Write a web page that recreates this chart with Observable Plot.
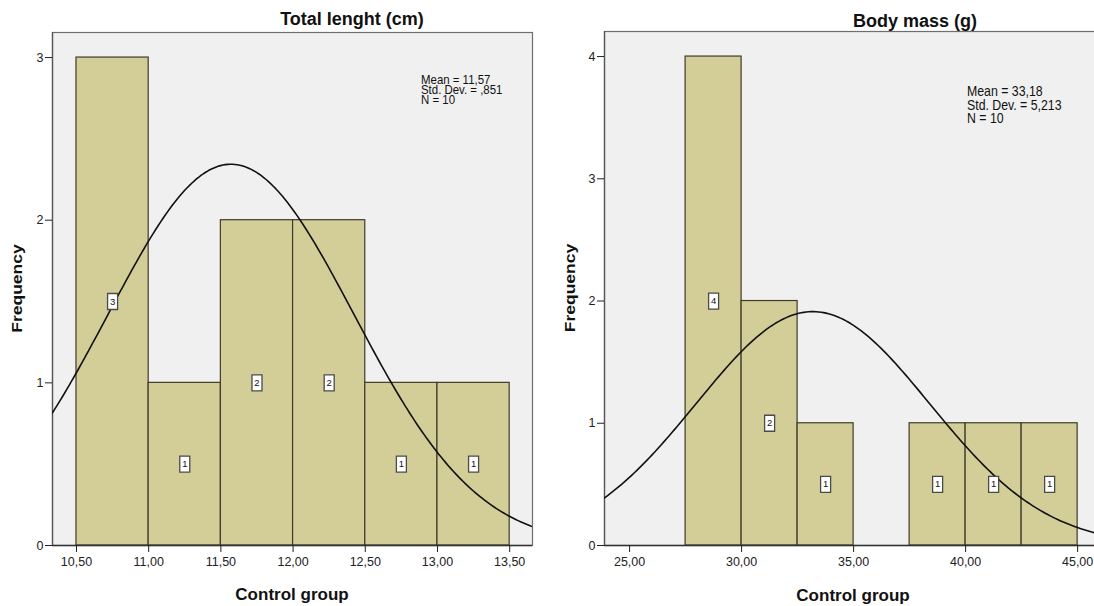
<!DOCTYPE html>
<html><head><meta charset="utf-8">
<script src="https://cdn.jsdelivr.net/npm/d3@7"></script>
<script src="https://cdn.jsdelivr.net/npm/@observablehq/plot@0.6"></script>
<style>
html,body{margin:0;padding:0;background:#fff;}
#wrap{position:relative;width:1094px;height:606px;overflow:hidden;background:#fff;}
#left{position:absolute;left:0;top:0;width:545px;height:606px;}
#right{position:absolute;left:545px;top:0;width:557px;height:606px;}
#wrap svg{max-width:none !important;display:block;}
</style></head><body><div id="wrap"><div id="left"></div><div id="right"></div></div>
<script>
// ---- Total length (cm) ----
const lenTitle = "Total lenght (cm)";
const lenEdges = [10.5, 11.0, 11.5, 12.0, 12.5, 13.0, 13.5];
const lenCounts = [3, 1, 2, 2, 1, 1];
const lenXTicks = [10.5, 11.0, 11.5, 12.0, 12.5, 13.0, 13.5];
const lenYTicks = [0, 1, 2, 3];
const lenMean = 11.57, lenSD = 0.851, lenN = 10;
const lenStatLines = ["Mean = 11,57", "Std. Dev. = ,851", "N = 10"];

// ---- Body mass (g) ----
const massTitle = "Body mass (g)";
const massEdges = [27.5, 30.0, 32.5, 35.0, 37.5, 40.0, 42.5, 45.0];
const massCounts = [4, 2, 1, 0, 1, 1, 1];
const massXTicks = [25, 30, 35, 40, 45];
const massYTicks = [0, 1, 2, 3, 4];
const massMean = 33.18, massSD = 5.213, massN = 10;
const massStatLines = ["Mean = 33,18", "Std. Dev. = 5,213", "N = 10"];

const xLabel = "Control group";
const yLabel = "Frequency";

const FONT = '"Liberation Sans", Arial, Helvetica, sans-serif';
const BAR_FILL = "#d3ce97";
const BAR_STROKE = "#3e3b2a";
const BG = "#f0f0f0";

const fmtComma = d => d.toFixed(2).replace(".", ",");

function txt(svg, s, x, y, o = {}) {
  return d3.select(svg).append("text")
    .attr("transform", `translate(${x},${y}) scale(${o.sx || 1},1) rotate(${o.rot || 0})`)
    .attr("text-anchor", o.anchor || "start")
    .attr("font-family", FONT)
    .attr("font-size", o.size || 12)
    .attr("font-weight", o.weight || "normal")
    .attr("fill", o.fill || "#111")
    .text(s);
}

function panel(cfg) {
  const bars = cfg.counts.map((c, i) => ({x1: cfg.edges[i], x2: cfg.edges[i + 1], count: c}));
  const labeled = bars.filter(b => b.count > 0).map(b => ({xm: (b.x1 + b.x2) / 2, ym: b.count / 2, count: b.count}));
  const bw = cfg.edges[1] - cfg.edges[0];
  const [x0, x1] = cfg.xDomain;
  const steps = 200;
  const curve = d3.range(steps + 1).map(i => {
    const x = x0 + (x1 - x0) * i / steps;
    const z = (x - cfg.mean) / cfg.sd;
    return {x, y: cfg.n * bw * Math.exp(-0.5 * z * z) / (cfg.sd * Math.sqrt(2 * Math.PI))};
  });
  const boxSymbol = {draw(ctx) { ctx.moveTo(-5, -8); ctx.lineTo(5, -8); ctx.lineTo(5, 8); ctx.lineTo(-5, 8); ctx.closePath(); }};

  const svg = Plot.plot({
    width: cfg.width, height: cfg.height,
    marginTop: cfg.mt, marginLeft: cfg.ml, marginRight: cfg.mr, marginBottom: cfg.mb,
    style: {fontFamily: FONT, fontSize: "12.5px", color: "#222", background: "transparent", maxWidth: "none"},
    x: {domain: cfg.xDomain},
    y: {domain: cfg.yDomain},
    marks: [
      Plot.frame({fill: BG, stroke: "#6e6e6e", strokeWidth: 1.2}),
      Plot.rect(bars.filter(b => b.count > 0), {x1: "x1", x2: "x2", y1: 0, y2: "count", fill: BAR_FILL, stroke: BAR_STROKE, strokeWidth: 1.2}),
      Plot.ruleY([0], {stroke: "#333", strokeWidth: 1.3}),
      Plot.ruleX([cfg.xDomain[0]], {stroke: "#555", strokeWidth: 1.3}),
      Plot.line(curve, {x: "x", y: "y", stroke: "#111", strokeWidth: 1.6, clip: true}),
      Plot.dot(labeled, {x: "xm", y: "ym", symbol: boxSymbol, r: 4, fill: "white", stroke: "#4a4a4a", strokeWidth: 1.3}),
      Plot.text(labeled, {x: "xm", y: "ym", text: d => String(d.count), fontSize: 9.5, fill: "#111"}),
      Plot.axisX({ticks: cfg.xTicks, tickFormat: fmtComma, tickSize: 7, tickPadding: 5, label: null, fontSize: 12.5, stroke: "#222"}),
      Plot.axisY({ticks: cfg.yTicks, tickFormat: d3.format("d"), tickSize: 7, tickPadding: 2, label: null, fontSize: 12.5, stroke: "#222"})
    ]
  });
  svg.style.maxWidth = "none";

  txt(svg, cfg.title, cfg.titleX, cfg.titleY, {size: 18, weight: "bold", anchor: "middle"});
  cfg.stats.forEach((s, i) => txt(svg, s, cfg.statsX, cfg.statsY + i * cfg.statsLH, {size: cfg.statsSize, sx: cfg.statsSx}));
  txt(svg, xLabel, cfg.ml + (cfg.width - cfg.ml - cfg.mr) / 2, cfg.xlabY, {size: 17, weight: "bold", anchor: "middle"});
  txt(svg, yLabel, cfg.freqX, cfg.mt + (cfg.height - cfg.mt - cfg.mb) / 2, {size: 17.5, weight: "bold", anchor: "middle", rot: -90, sx: 0.85});
  return svg;
}

document.getElementById("left").appendChild(panel({
  width: 545, height: 606, mt: 32, ml: 52, mr: 13, mb: 61,
  xDomain: [10.334, 13.658], yDomain: [0, 3.154],
  edges: lenEdges, counts: lenCounts, xTicks: lenXTicks, yTicks: lenYTicks,
  mean: lenMean, sd: lenSD, n: lenN,
  title: lenTitle, titleX: 352, titleY: 25,
  stats: lenStatLines, statsX: 421, statsY: 84, statsLH: 10, statsSize: 13, statsSx: 0.88,
  xlabY: 600, freqX: 22
}));

document.getElementById("right").appendChild(panel({
  width: 557, height: 606, mt: 31, ml: 59, mr: 0, mb: 61,
  xDomain: [23.88, 46.11], yDomain: [0, 4.205],
  edges: massEdges, counts: massCounts, xTicks: massXTicks, yTicks: massYTicks,
  mean: massMean, sd: massSD, n: massN,
  title: massTitle, titleX: 370, titleY: 27,
  stats: massStatLines, statsX: 422, statsY: 96, statsLH: 13.5, statsSize: 14, statsSx: 0.88,
  xlabY: 601, freqX: 30
}));
</script></body></html>
